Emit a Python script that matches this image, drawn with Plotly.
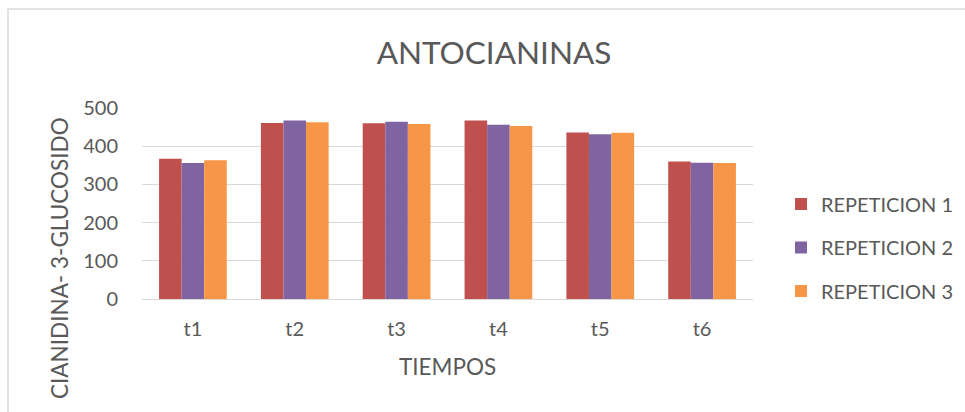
import plotly.graph_objects as go

categories = ["t1", "t2", "t3", "t4", "t5", "t6"]
rep1 = [367, 461, 460, 467, 436, 360]
rep2 = [356, 467, 464, 456, 431, 357]
rep3 = [363, 463, 458, 453, 435, 356]
series_names = ["REPETICION 1", "REPETICION 2", "REPETICION 3"]
colors = ["#C0504D", "#8064A2", "#F79646"]
y_ticks = [0, 100, 200, 300, 400, 500]

FONT = "Lato"
TXT = "#595959"
W, H = 965, 412
L, R, T, B = 142, 212, 108, 113
pw, ph = W - L - R, H - T - B

def px2x(px):
    return (px - L) / pw

def py2y(py):
    return (H - B - py) / ph

fig = go.Figure()
for name, vals, col in zip(series_names, [rep1, rep2, rep3], colors):
    fig.add_trace(go.Bar(x=categories, y=vals, name=name, marker_color=col,
                         marker_line_width=0, legendgroup=name))

fig.update_layout(
    width=W, height=H,
    margin=dict(l=L, r=R, t=T, b=B, autoexpand=False),
    paper_bgcolor="white", plot_bgcolor="white",
    barmode="group", bargap=0.335, bargroupgap=0,
    font=dict(family=FONT, color=TXT, size=20),
    title=dict(text="ANTOCIANINAS", x=494 / W, xanchor="center",
               y=1 - 52.5 / H, yanchor="middle", yref="container",
               font=dict(family=FONT, size=31.5, color=TXT)),
    xaxis=dict(showgrid=False, showline=True, linecolor="#D9D9D9", linewidth=1.3,
               ticks="", tickfont=dict(size=20, color=TXT), ticklabelstandoff=12),
    yaxis=dict(range=[0, 500], tickvals=y_ticks, showgrid=True, gridcolor="#D9D9D9",
               gridwidth=1.3, zeroline=False, showline=False, ticks="",
               tickfont=dict(size=20, color=TXT), ticklabelstandoff=23),
    legend=dict(x=px2x(781), xanchor="left", y=py2y(184.5), yanchor="top",
                font=dict(size=20, color=TXT), tracegroupgap=14.5,
                bgcolor="rgba(0,0,0,0)"),
    showlegend=True,
    hovermode=False,
    annotations=[
        dict(text="TIEMPOS", xref="paper", yref="paper", x=px2x(447), y=py2y(366),
             xanchor="center", yanchor="middle", showarrow=False,
             font=dict(family=FONT, size=22.5, color=TXT)),
        dict(text="CIANIDINA- 3-GLUCOSIDO", xref="paper", yref="paper",
             x=px2x(59.5), y=py2y(257.5), textangle=-90,
             xanchor="center", yanchor="middle", showarrow=False,
             font=dict(family=FONT, size=22.5, color=TXT)),
    ],
    shapes=[dict(type="rect", xref="paper", yref="paper",
                 x0=px2x(8), x1=px2x(1000), y0=py2y(450), y1=py2y(9),
                 line=dict(color="#D9D9D9", width=1.5), fillcolor="rgba(0,0,0,0)",
                 layer="below")],
)

fig.write_html("out.html", config={"displayModeBar": False},
               post_script="document.body.style.margin='0';document.body.style.overflow='hidden';")
